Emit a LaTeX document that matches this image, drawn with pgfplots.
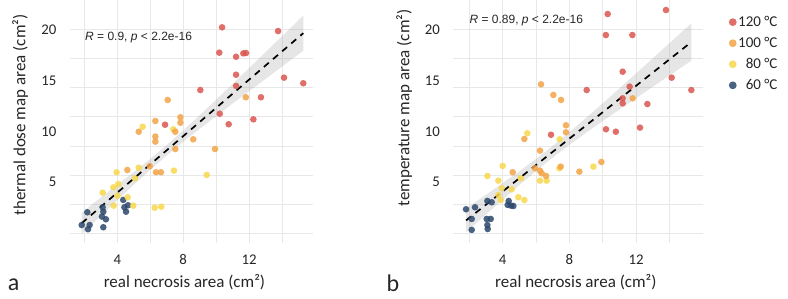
\documentclass[border=0pt]{standalone}
\usepackage{fontspec}
\setmainfont{Carlito}
\newfontfamily\arialfont{Liberation Sans}
\usepackage{pgfplots}
\pgfplotsset{compat=1.18}
\definecolor{c120}{RGB}{218,86,80}
\definecolor{c100}{RGB}{243,163,70}
\definecolor{c80}{RGB}{247,215,76}
\definecolor{c60}{RGB}{44,72,108}
\definecolor{gridc}{RGB}{232,232,232}
\definecolor{txt}{RGB}{38,38,38}
\definecolor{ribc}{RGB}{150,150,150}
\pgfplotsset{
  panel/.style={
    scale only axis, height=243pt,
    ymin=1.70, ymax=22.51,
    axis line style={draw=none}, tick style={draw=none},
    xtick={4,8,12}, xticklabels={4,8,12}, minor xtick={2,6,10,14},
    ytick={6.95,11.23,15.57,20}, yticklabels={5,10,15,20},
    minor ytick={2.5,5,7.5,10,12.5,15,17.5,20},
    xmajorgrids, xminorgrids, yminorgrids, ymajorgrids=false,
    major grid style={gridc, line width=0.9pt},
    minor grid style={gridc, line width=0.9pt},
    tick label style={font=\fontsize{14.8}{14.8}\selectfont, text=txt},
    yticklabel style={xshift=-10pt},
    xticklabel style={yshift=-8pt},
    label style={font=\fontsize{17}{17}\selectfont, text=txt},
    /pgf/number format/assume math mode=true,
  },
  pts/.style={only marks, mark=*, color=#1, mark size=3.3pt,
    mark options={fill=#1, draw=#1, line width=0pt, fill opacity=0.85, draw opacity=0}},
  rib/.style={fill=ribc, fill opacity=0.24, draw=none, forget plot},
  reg/.style={black, line width=1.7pt, dash pattern=on 6.5pt off 5.5pt, forget plot},
}
\begin{document}
\begin{tikzpicture}
\path[use as bounding box] (0,0) rectangle (788pt,298pt);
% ---------------- panel a ----------------
\begin{axis}[panel, at={(70pt,55pt)}, anchor=south west, width=243.5pt,
  xmin=1.128, xmax=15.91,
  xlabel={real necrosis area (cm²)},
  ylabel={thermal dose map area (cm²)},
  xlabel style={at={(axis description cs:0.47,-0.16)}, anchor=center},
  ylabel style={at={(axis description cs:-0.205,0.527)}, anchor=center},
]
\addplot[pts=c60] coordinates {(2.18,4.33) (1.84,3.24) (2.22,2.88) (2.32,3.24) (3.11,4.76) (3.15,4.38) (3.07,3.96) (3.31,3.73) (3.15,3.05) (4.36,5.39) (4.65,4.93) (4.43,4.76) (4.53,4.38)};
\addplot[pts=c80] coordinates {(3.11,6.01) (3.76,6.47) (4.06,6.75) (3.96,7.76) (5.07,7.24) (5.30,8.15) (3.78,4.90) (4.97,4.90) (4.63,5.62) (4.00,5.75) (6.27,4.72) (6.67,4.81) (9.43,7.53) (7.44,7.90) (5.54,11.66) (7.40,11.44)};
\addplot[pts=c100] coordinates {(4.61,7.95) (5.30,11.23) (6.31,12.15) (6.31,10.82) (6.31,10.38) (6.35,7.76) (6.65,7.76) (7.06,13.95) (7.83,12.47) (7.83,12.00) (7.52,11.23) (7.52,9.75) (8.61,10.58) (9.93,9.75) (11.80,14.18) (5.97,8.28)};
\addplot[pts=c120] coordinates {(10.36,20.17) (13.76,19.85) (10.19,18.00) (11.21,17.65) (11.65,17.94) (11.81,17.97) (11.21,16.11) (14.12,15.86) (15.29,15.38) (11.21,15.15) (9.04,14.80) (12.72,14.18) (10.22,12.77) (12.26,12.29) (10.76,11.87) (6.90,11.83)};
\addplot[rib] coordinates {(1.84,4.30) (3,5.60) (4,6.67) (5,7.77) (6,8.90) (7,10.09) (8,11.34) (9,12.64) (10,13.97) (11,15.32) (12,16.68) (13,18.05) (14,19.41) (15.29,21.18)
 (15.29,18.16) (14,16.81) (13,15.75) (12,14.70) (11,13.64) (10,12.57) (9,11.48) (8,10.36) (7,9.19) (6,7.96) (5,6.69) (4,5.37) (3,4.02) (1.84,2.50)};
\addplot[reg] coordinates {(1.84,3.40) (15.29,19.67)};
\node[anchor=west, text=txt, font=\arialfont\fontsize{12}{12}\selectfont] at (axis description cs:0.048,0.846) {\textit{R} = 0.9, \textit{p} < 2.2e-16};
\end{axis}
% ---------------- panel b ----------------
\begin{axis}[panel, at={(453.3pt,55pt)}, anchor=south west, width=249.7pt,
  xmin=1.036, xmax=16.02,
  xlabel={real necrosis area (cm²)},
  ylabel={temperature map area (cm²)},
  xlabel style={at={(axis description cs:0.491,-0.16)}, anchor=center},
  ylabel style={at={(axis description cs:-0.197,0.556)}, anchor=center},
  reverse legend,
  legend cell align=right,
  legend style={at={(axis description cs:1.305,0.94)}, anchor=north east, draw=none, fill=none,
    font=\fontsize{15}{15}\selectfont, text=txt, row sep=6.3pt, inner sep=0pt,
    nodes={inner sep=1.5pt}},
  legend image post style={mark size=3.9pt},
]
\addplot[pts=c60] coordinates {(1.80,4.59) (2.34,4.76) (2.14,3.76) (2.14,2.82) (3.08,5.30) (3.34,5.19) (3.04,3.76) (3.28,3.76) (3.08,3.24) (3.10,2.90) (4.36,5.30) (4.30,4.96) (4.50,4.90) (4.64,4.87)};
\addlegendentry{60 °C}
\addplot[pts=c80] coordinates {(5.48,11.10) (7.42,10.58) (4.00,8.30) (3.08,7.44) (3.74,7.04) (5.08,7.24) (7.40,8.10) (6.24,7.04) (6.64,7.04) (9.44,8.24) (3.94,6.39) (4.54,6.30) (3.74,5.81) (3.88,5.38) (4.94,5.62) (5.30,5.38)};
\addlegendentry{80 °C}
\addplot[pts=c100] coordinates {(6.30,15.29) (7.04,14.38) (7.50,13.95) (11.80,14.09) (7.80,11.78) (7.80,11.18) (5.30,10.61) (6.24,9.61) (4.60,7.76) (5.94,8.10) (6.24,7.89) (6.34,7.67) (6.60,7.44) (7.48,8.24) (8.60,7.81) (9.92,8.64)};
\addlegendentry{100 °C}
\addplot[pts=c120] coordinates {(10.30,21.31) (13.80,21.65) (10.19,19.51) (11.78,19.51) (11.20,16.37) (9.04,14.80) (11.62,15.09) (11.20,14.09) (11.20,13.66) (12.68,13.60) (10.20,11.44) (10.79,11.23) (12.24,11.58) (6.90,10.97) (14.14,15.86) (15.32,14.80)};
\addlegendentry{120 °C}
\addplot[rib] coordinates {(1.80,4.65) (3,5.83) (4,6.83) (5,7.84) (6,8.90) (7,10.01) (8,11.18) (9,12.41) (10,13.66) (11,14.93) (12,16.22) (13,17.51) (14,18.80) (15.32,20.51)
 (15.32,17.31) (14,16.04) (13,15.07) (12,14.10) (11,13.13) (10,12.14) (9,11.13) (8,10.10) (7,9.01) (6,7.86) (5,6.66) (4,5.41) (3,4.15) (1.80,2.61)};
\addplot[reg] coordinates {(1.80,3.63) (15.32,18.91)};
\node[anchor=west, text=txt, font=\arialfont\fontsize{12}{12}\selectfont] at (axis description cs:0.051,0.915) {\textit{R} = 0.89, \textit{p} < 2.2e-16};
\end{axis}
\node[text=txt, font=\fontsize{24}{24}\selectfont] at (13.7pt,13pt) {a};
\node[text=txt, font=\fontsize{24}{24}\selectfont] at (393pt,15pt) {b};
\end{tikzpicture}
\end{document}
